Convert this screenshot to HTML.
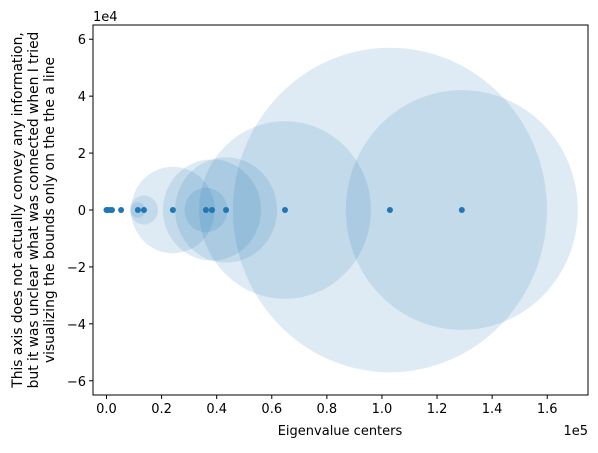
<!DOCTYPE html>
<html><head><meta charset="utf-8"><style>
body{margin:0;background:#fff;}
svg{font-family:"DejaVu Sans","Liberation Sans",sans-serif;}
</style></head><body>
<svg id="c" width="598" height="448" viewBox="0 0 598 448"></svg>
<script>
const centers = [0, 500, 1300, 2000, 5300, 11400, 13600, 24100, 36100, 38300, 43400, 64800, 102900, 129000];
const radii   = [300, 300, 400, 500, 800, 2700, 5100, 15200, 7800, 17800, 18500, 31200, 57000, 42100];
const xTicks = [0, 20000, 40000, 60000, 80000, 100000, 120000, 140000, 160000];
const xTickLabels = ["0.0","0.2","0.4","0.6","0.8","1.0","1.2","1.4","1.6"];
const yTicks = [-60000, -40000, -20000, 0, 20000, 40000, 60000];
const yTickLabels = ["\u22126","\u22124","\u22122","0","2","4","6"];
const xMin=-4900, xMax=174800, yMin=-65000, yMax=65000;
const L=93, R=588, T=25, B=395;
const sx = v => L + (v-xMin)/(xMax-xMin)*(R-L);
const sy = v => B - (v-yMin)/(yMax-yMin)*(B-T);
const ns="http://www.w3.org/2000/svg";
const svg=document.getElementById('c');
function mk(tag, attrs, parent){const e=document.createElementNS(ns,tag);for(const k in attrs)e.setAttribute(k,attrs[k]);(parent||svg).appendChild(e);return e;}
const defs=mk('defs',{});
const cp=mk('clipPath',{id:'clip'},defs);
mk('rect',{x:L,y:T,width:R-L,height:B-T},cp);
const g=mk('g',{'clip-path':'url(#clip)'});


const kx=(R-L)/(xMax-xMin), ky=(B-T)/(yMax-yMin);
centers.forEach((c,i)=>{
  const e=mk('ellipse',{cx:sx(c),cy:sy(0),rx:radii[i]*kx,ry:radii[i]*ky,fill:'#1f77b4','fill-opacity':0.15},g);
  
  
});
centers.forEach((c)=>{
  const e=mk('circle',{cx:sx(c),cy:sy(0),r:3,fill:'#1f77b4'},g);
  
  
});
const fr=mk('rect',{x:L,y:T,width:R-L,height:B-T,fill:'none',stroke:'#000','stroke-width':1});


xTicks.forEach((t,i)=>{
  const x=sx(t);
  mk('line',{x1:x,x2:x,y1:B,y2:B+4,stroke:'#000'});
  const tx=mk('text',{x:x,y:B+18,'font-size':13,'text-anchor':'middle'});
  tx.textContent=xTickLabels[i];
  
  
});
yTicks.forEach((t,i)=>{
  const y=sy(t);
  mk('line',{x1:L-4,x2:L,y1:y,y2:y,stroke:'#000'});
  const tx=mk('text',{x:L-7,y:y+5,'font-size':13,'text-anchor':'end'});
  tx.textContent=yTickLabels[i];
  
  
});
</script>
<svg width="598" height="448" style="position:absolute;left:0;top:0">
<text x="93" y="21" font-size="13" font-family="DejaVu Sans, sans-serif">1e4</text>
<text x="588" y="435" font-size="13" text-anchor="end" font-family="DejaVu Sans, sans-serif">1e5</text>
<text x="340" y="435" font-size="13" text-anchor="middle" font-family="DejaVu Sans, sans-serif">Eigenvalue centers</text>
<g transform="translate(0,210) rotate(-90)" font-size="13.8" text-anchor="middle" font-family="DejaVu Sans, sans-serif">
<text x="0" y="22">This axis does not actually convey any information,</text>
<text x="0" y="38">but it was unclear what was connected when I tried</text>
<text x="0" y="54">visualizing the bounds only on the the a line</text>
</g>
</svg>
</body></html>
